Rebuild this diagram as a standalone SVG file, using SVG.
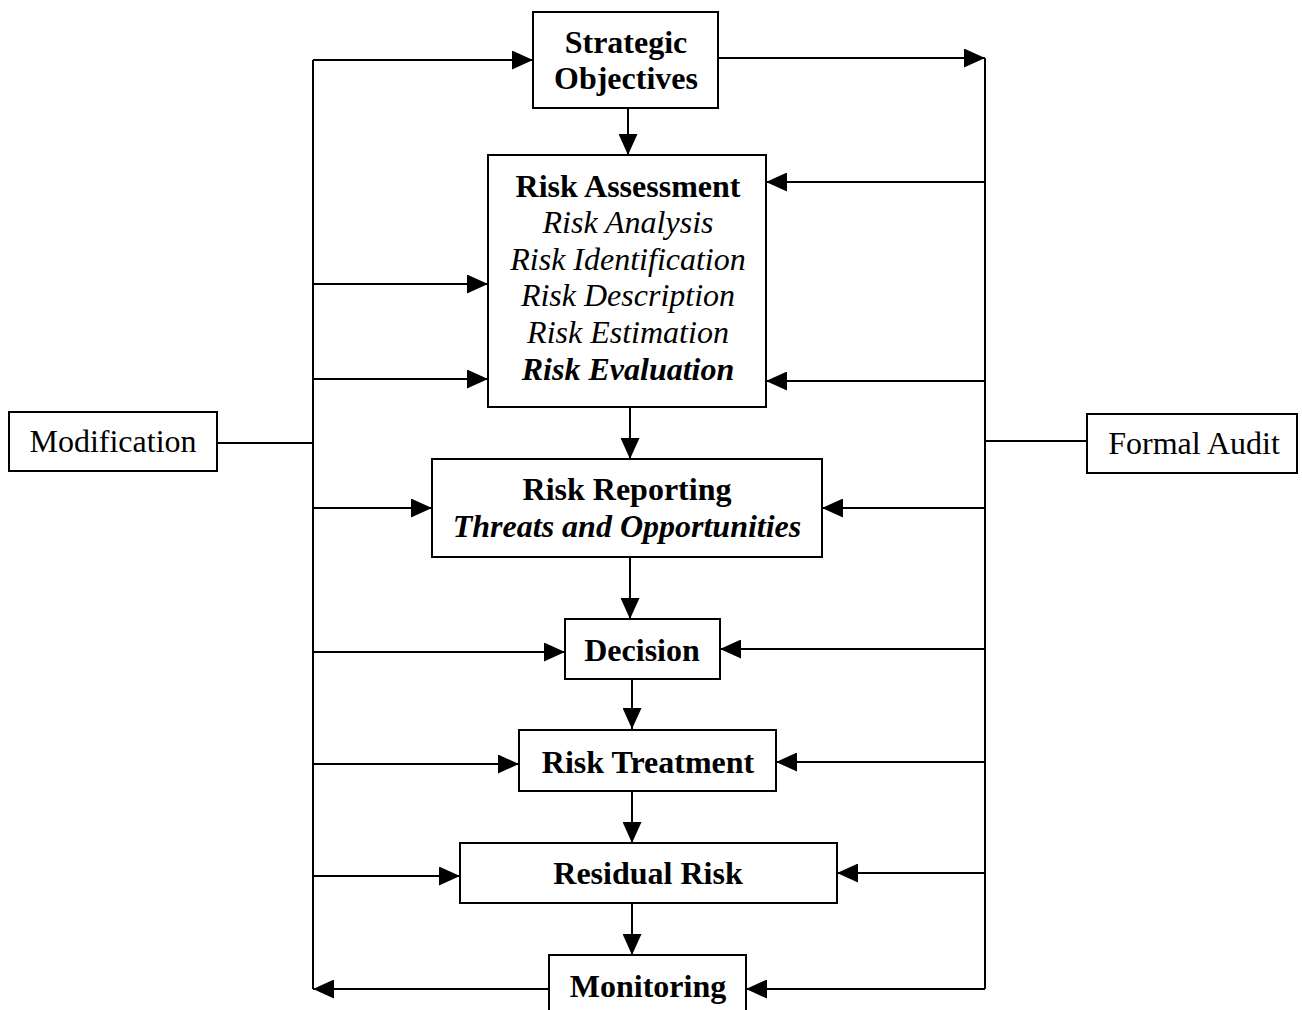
<svg xmlns="http://www.w3.org/2000/svg" width="1302" height="1010" viewBox="0 0 1302 1010">
<style>
.box{fill:#fff;stroke:#000;stroke-width:2}
.t{font-family:"Liberation Serif","Times New Roman",serif;font-size:32px;fill:#000;text-anchor:middle}
.b{font-weight:bold}
.i{font-style:italic}
.ln{fill:none;stroke:#000;stroke-width:2}
</style>
<defs>
<marker id="ah" viewBox="0 0 21 19" refX="21" refY="9.5" markerWidth="21" markerHeight="19" markerUnits="userSpaceOnUse" orient="auto">
<path d="M0,0 L21,9.5 L0,19 z" fill="#000"/>
</marker>
</defs>
<rect width="1302" height="1010" fill="#fff"/>
<g id="connectors">
<path class="ln" d="M313,60 V989"/>
<path class="ln" d="M985,58 V989"/>
<path class="ln" d="M313,60 H533" marker-end="url(#ah)"/>
<path class="ln" d="M718,58 H985" marker-end="url(#ah)"/>
<path class="ln" d="M628,108 V155" marker-end="url(#ah)"/>
<path class="ln" d="M313,284 H488" marker-end="url(#ah)"/>
<path class="ln" d="M313,379 H488" marker-end="url(#ah)"/>
<path class="ln" d="M985,182 H766" marker-end="url(#ah)"/>
<path class="ln" d="M985,381 H766" marker-end="url(#ah)"/>
<path class="ln" d="M217,443 H313"/>
<path class="ln" d="M985,441 H1087"/>
<path class="ln" d="M630,407 V459" marker-end="url(#ah)"/>
<path class="ln" d="M313,508 H432" marker-end="url(#ah)"/>
<path class="ln" d="M985,508 H822" marker-end="url(#ah)"/>
<path class="ln" d="M630,557 V619" marker-end="url(#ah)"/>
<path class="ln" d="M313,652 H565" marker-end="url(#ah)"/>
<path class="ln" d="M985,649 H720" marker-end="url(#ah)"/>
<path class="ln" d="M632,679 V729" marker-end="url(#ah)"/>
<path class="ln" d="M313,764 H519" marker-end="url(#ah)"/>
<path class="ln" d="M985,762 H776" marker-end="url(#ah)"/>
<path class="ln" d="M632,791 V843" marker-end="url(#ah)"/>
<path class="ln" d="M313,876 H460" marker-end="url(#ah)"/>
<path class="ln" d="M985,873 H837" marker-end="url(#ah)"/>
<path class="ln" d="M632,903 V955" marker-end="url(#ah)"/>
<path class="ln" d="M549,989 H313" marker-end="url(#ah)"/>
<path class="ln" d="M985,989 H746" marker-end="url(#ah)"/>
</g>
<g id="strategic">
<rect class="box" x="533" y="12" width="185" height="96"/>
<text class="t b" x="626" y="53">Strategic</text>
<text class="t b" x="626" y="89">Objectives</text>
</g>
<g id="assessment">
<rect class="box" x="488" y="155" width="278" height="252"/>
<text class="t b" x="628" y="197">Risk Assessment</text>
<text class="t i" x="628" y="233">Risk Analysis</text>
<text class="t i" x="628" y="270">Risk Identification</text>
<text class="t i" x="628" y="306">Risk Description</text>
<text class="t i" x="628" y="343">Risk Estimation</text>
<text class="t b i" x="628" y="380">Risk Evaluation</text>
</g>
<g id="modification">
<rect class="box" x="9" y="412" width="208" height="59"/>
<text class="t" x="113" y="452">Modification</text>
</g>
<g id="audit">
<rect class="box" x="1087" y="414" width="210" height="59"/>
<text class="t" x="1194" y="454">Formal Audit</text>
</g>
<g id="reporting">
<rect class="box" x="432" y="459" width="390" height="98"/>
<text class="t b" x="627" y="500">Risk Reporting</text>
<text class="t b i" x="627" y="537">Threats and Opportunities</text>
</g>
<g id="decision">
<rect class="box" x="565" y="619" width="155" height="60"/>
<text class="t b" x="642" y="661">Decision</text>
</g>
<g id="treatment">
<rect class="box" x="519" y="730" width="257" height="61"/>
<text class="t b" x="648" y="773">Risk Treatment</text>
</g>
<g id="residual">
<rect class="box" x="460" y="843" width="377" height="60"/>
<text class="t b" x="648" y="884">Residual Risk</text>
</g>
<g id="monitoring">
<rect class="box" x="549" y="955" width="197" height="70"/>
<text class="t b" x="648" y="997">Monitoring</text>
</g>
</svg>
